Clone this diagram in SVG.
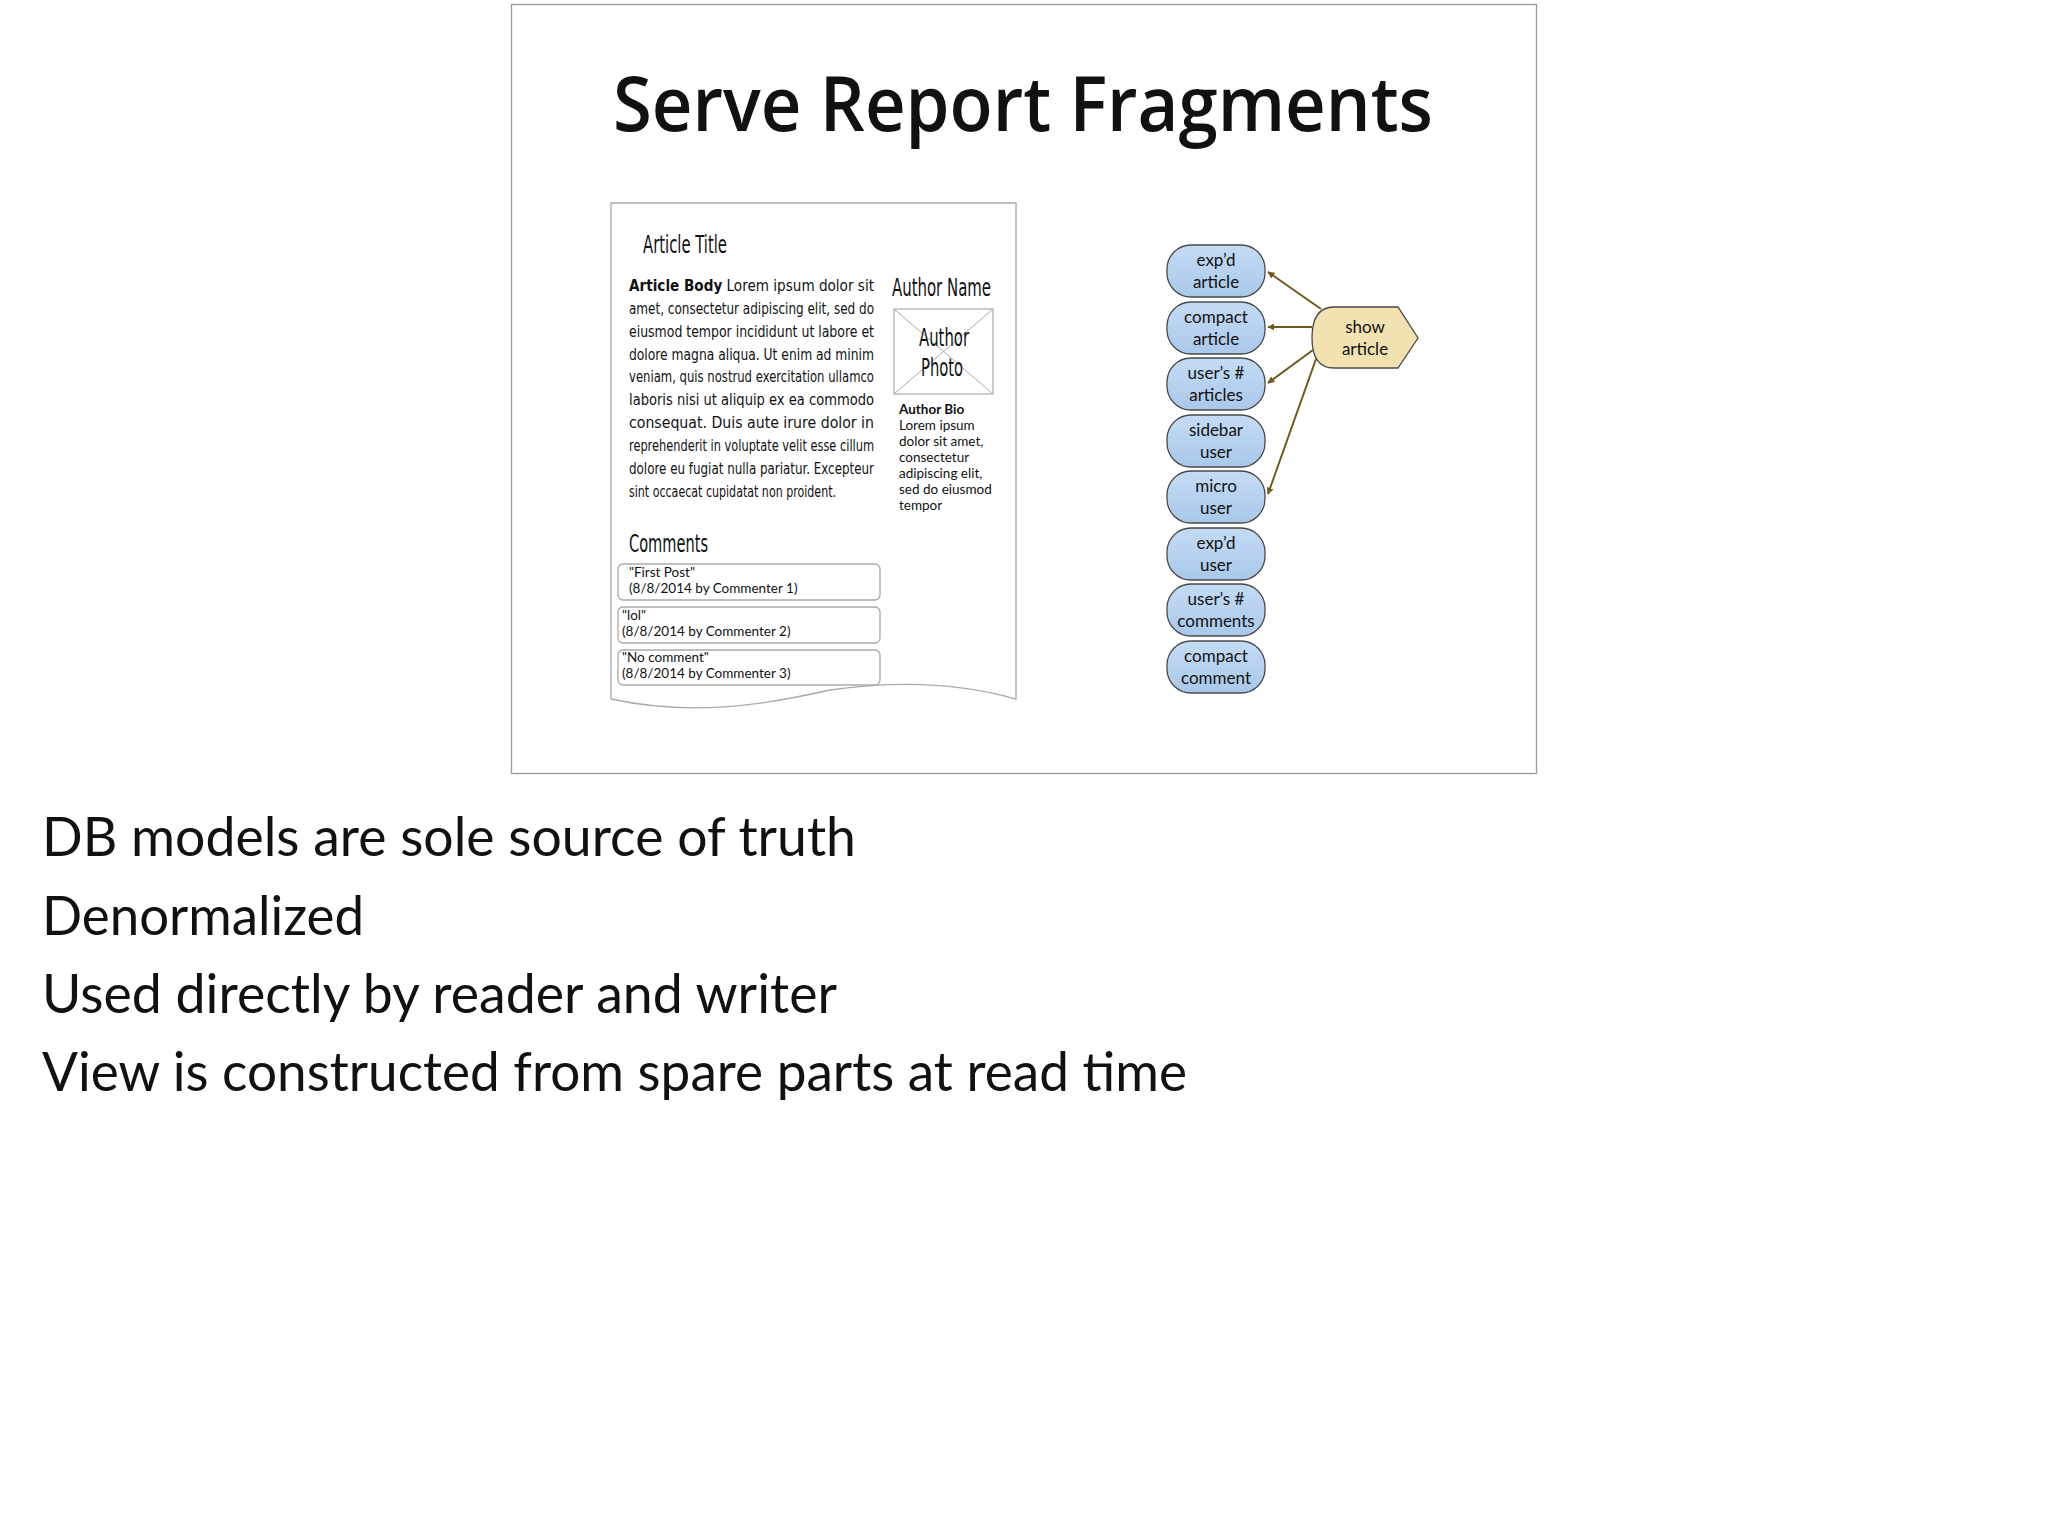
<svg xmlns="http://www.w3.org/2000/svg" width="2048" height="1527" viewBox="0 0 2048 1527">
<defs>
<marker id="ah" viewBox="0 0 10 10" refX="9" refY="5" markerWidth="7" markerHeight="7" orient="auto" markerUnits="userSpaceOnUse"><path d="M0,0 L10,5 L0,10 z" fill="#6b5a1a"/></marker>
<linearGradient id="bl" x1="0" y1="0" x2="0" y2="1"><stop offset="0" stop-color="#c4dcf5"/><stop offset="1" stop-color="#a9c8ea"/></linearGradient>
</defs>
<style>
.nd{fill:url(#bl);stroke:#4a4a4a;stroke-width:1.3}
.nt{font-family:"Lato","Liberation Sans",sans-serif;font-size:17px;fill:#111;text-anchor:middle}
.bd{font-family:"DejaVu Sans Condensed","Liberation Sans",sans-serif;font-size:16px;fill:#111}
.hd{font-family:"DejaVu Sans Condensed","Liberation Sans",sans-serif;font-size:24px;fill:#111}
.sm{font-family:"Lato","Liberation Sans",sans-serif;font-size:13.5px;fill:#111}
.cb{fill:#fff;stroke:#aaa;stroke-width:1.3}
.bl{font-family:"Lato","Open Sans",sans-serif;font-size:54px;fill:#111}
.cn{stroke:#6b5a1a;stroke-width:2;fill:none;marker-end:url(#ah)}
</style>
<rect width="2048" height="1527" fill="#fff"/>
<rect x="511.5" y="4.5" width="1025" height="769" fill="#fff" stroke="#999" stroke-width="1.3"/>
<text x="1023" y="131" text-anchor="middle" font-family="'Open Sans','Liberation Sans',sans-serif" font-size="76" font-weight="600" textLength="820" lengthAdjust="spacingAndGlyphs" fill="#111">Serve Report Fragments</text>
<g id="page">
<path d="M611,203 L1016,203 L1016,699 C960,683 900,680 830,690 C760,706 690,716 611,699 Z" fill="#fff" stroke="#aaa" stroke-width="1.3"/>
<text class="hd" x="643" y="253" textLength="84" lengthAdjust="spacingAndGlyphs">Article Title</text>
<g class="bd">
<text x="629" y="291" textLength="245" lengthAdjust="spacingAndGlyphs"><tspan font-weight="bold">Article Body</tspan> Lorem ipsum dolor sit</text>
<text x="629" y="314" textLength="245" lengthAdjust="spacingAndGlyphs">amet, consectetur adipiscing elit, sed do</text>
<text x="629" y="337" textLength="245" lengthAdjust="spacingAndGlyphs">eiusmod tempor incididunt ut labore et</text>
<text x="629" y="360" textLength="245" lengthAdjust="spacingAndGlyphs">dolore magna aliqua. Ut enim ad minim</text>
<text x="629" y="382" textLength="245" lengthAdjust="spacingAndGlyphs">veniam, quis nostrud exercitation ullamco</text>
<text x="629" y="405" textLength="245" lengthAdjust="spacingAndGlyphs">laboris nisi ut aliquip ex ea commodo</text>
<text x="629" y="428" textLength="245" lengthAdjust="spacingAndGlyphs">consequat. Duis aute irure dolor in</text>
<text x="629" y="451" textLength="245" lengthAdjust="spacingAndGlyphs">reprehenderit in voluptate velit esse cillum</text>
<text x="629" y="474" textLength="245" lengthAdjust="spacingAndGlyphs">dolore eu fugiat nulla pariatur. Excepteur</text>
<text x="629" y="497" textLength="207" lengthAdjust="spacingAndGlyphs">sint occaecat cupidatat non proident.</text>
</g>
<text class="hd" x="892" y="296" textLength="99" lengthAdjust="spacingAndGlyphs">Author Name</text>
<rect x="894" y="309" width="99" height="85" fill="#fff" stroke="#aaa" stroke-width="1.2"/>
<path d="M894,309 L993,394 M993,309 L894,394" stroke="#aaa" stroke-width="1"/>
<text class="hd" x="944" y="346" text-anchor="middle" textLength="50" lengthAdjust="spacingAndGlyphs">Author</text>
<text class="hd" x="942" y="376" text-anchor="middle" textLength="42" lengthAdjust="spacingAndGlyphs">Photo</text>
<text class="sm" x="899" y="414" font-weight="bold" font-size="14">Author Bio</text>
<text class="sm" x="899" y="430">Lorem ipsum</text>
<text class="sm" x="899" y="446">dolor sit amet,</text>
<text class="sm" x="899" y="462">consectetur</text>
<text class="sm" x="899" y="478">adipiscing elit,</text>
<text class="sm" x="899" y="494">sed do eiusmod</text>
<text class="sm" x="899" y="510">tempor</text>
<text class="hd" x="629" y="552" textLength="79" lengthAdjust="spacingAndGlyphs">Comments</text>
<rect class="cb" x="618" y="564" width="262" height="36" rx="5"/>
<text class="sm" x="629" y="577">"First Post"</text>
<text class="sm" x="629" y="593">(8/8/2014 by Commenter 1)</text>
<rect class="cb" x="618" y="607" width="262" height="36" rx="5"/>
<text class="sm" x="622" y="620">"lol"</text>
<text class="sm" x="622" y="636">(8/8/2014 by Commenter 2)</text>
<rect class="cb" x="618" y="650" width="262" height="35" rx="5"/>
<text class="sm" x="622" y="662">"No comment"</text>
<text class="sm" x="622" y="678">(8/8/2014 by Commenter 3)</text>
</g>
<g id="n1"><rect class="nd" x="1167" y="245" width="98" height="52" rx="24"/><text class="nt" x="1216" y="266">exp’d</text><text class="nt" x="1216" y="288">article</text></g>
<g id="n2"><rect class="nd" x="1167" y="302" width="98" height="52" rx="24"/><text class="nt" x="1216" y="323">compact</text><text class="nt" x="1216" y="345">article</text></g>
<g id="n3"><rect class="nd" x="1167" y="358" width="98" height="52" rx="24"/><text class="nt" x="1216" y="379">user’s #</text><text class="nt" x="1216" y="401">articles</text></g>
<g id="n4"><rect class="nd" x="1167" y="415" width="98" height="52" rx="24"/><text class="nt" x="1216" y="436">sidebar</text><text class="nt" x="1216" y="458">user</text></g>
<g id="n5"><rect class="nd" x="1167" y="471" width="98" height="52" rx="24"/><text class="nt" x="1216" y="492">micro</text><text class="nt" x="1216" y="514">user</text></g>
<g id="n6"><rect class="nd" x="1167" y="528" width="98" height="52" rx="24"/><text class="nt" x="1216" y="549">exp’d</text><text class="nt" x="1216" y="571">user</text></g>
<g id="n7"><rect class="nd" x="1167" y="584" width="98" height="52" rx="24"/><text class="nt" x="1216" y="605">user’s #</text><text class="nt" x="1216" y="627">comments</text></g>
<g id="n8"><rect class="nd" x="1167" y="641" width="98" height="52" rx="24"/><text class="nt" x="1216" y="662">compact</text><text class="nt" x="1216" y="684">comment</text></g>
<g id="show"><path d="M1334,307 L1398,307 L1418,338 L1398,368 L1334,368 Q1312,368 1312,338 Q1312,307 1334,307 Z" fill="#f1e2b0" stroke="#4a4a4a" stroke-width="1.3"/><text class="nt" x="1365" y="333">show</text><text class="nt" x="1365" y="355">article</text></g>
<g id="connectors">
<path class="cn" d="M1321,309 L1268,272"/>
<path class="cn" d="M1312,327 L1268,327"/>
<path class="cn" d="M1313,350 L1268,383"/>
<path class="cn" d="M1316,359 L1268,494"/>
</g>
<g class="bl">
<text x="42" y="856" textLength="814" lengthAdjust="spacingAndGlyphs">DB models are sole source of truth</text>
<text x="42" y="935" textLength="322" lengthAdjust="spacingAndGlyphs">Denormalized</text>
<text x="42" y="1013" textLength="795" lengthAdjust="spacingAndGlyphs">Used directly by reader and writer</text>
<text x="42" y="1091" textLength="1145" lengthAdjust="spacingAndGlyphs">View is constructed from spare parts at read time</text>
</g>
</svg>
